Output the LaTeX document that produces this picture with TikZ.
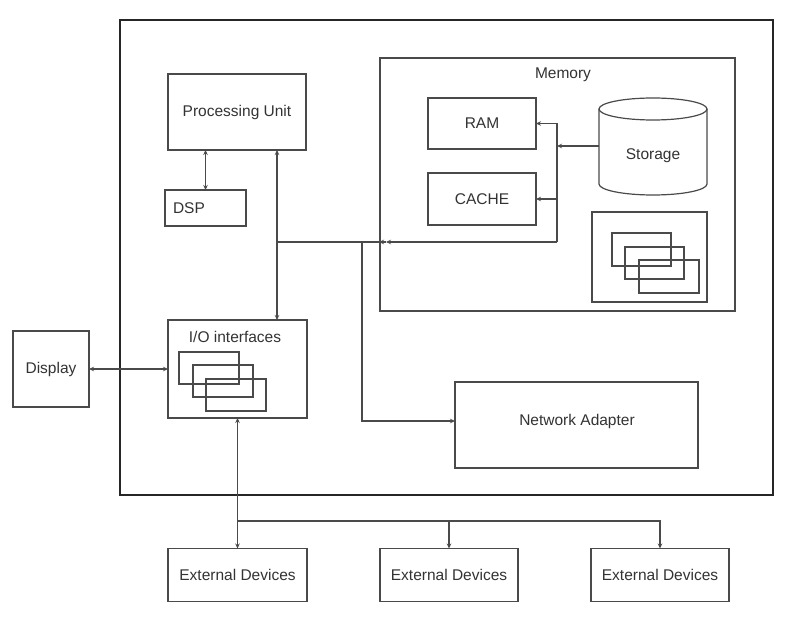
\documentclass[tikz,border=0pt]{standalone}
\usepackage{fontspec}
\setmainfont{Liberation Sans}
\usetikzlibrary{arrows.meta}
\definecolor{ln}{HTML}{4A4A4A}
\definecolor{tx}{HTML}{333333}
\begin{document}
\begin{tikzpicture}[x=1pt,y=-1pt,
  box/.style={draw=ln,line width=1.2pt,inner sep=0pt,outer sep=0pt,text=tx,font=\fontsize{15.5}{18}\selectfont},
  lbl/.style={inner sep=0pt,text=tx,font=\fontsize{15.5}{18}\selectfont},
  wire/.style={draw=ln,line width=1.2pt},
  arr/.style={wire,-{Stealth[length=5pt,width=4.5pt]}},
  biarr/.style={wire,{Stealth[length=5pt,width=4.5pt]}-{Stealth[length=5pt,width=4.5pt]}}]
\useasboundingbox (0,0) rectangle (791,617);
\fill[white] (0,0) rectangle (791,617);
% outer frame
\node[draw=black!85,line width=2pt,minimum width=653pt,minimum height=475pt,inner sep=0pt] (outer) at (446.5,257.5) {};
% processing side
\node[box,minimum width=138pt,minimum height=76pt] (pu) at (237,112) {Processing Unit};
\node[box,minimum width=81pt,minimum height=36pt,text width=65pt,align=left] (dsp) at (205.5,208) {DSP};
% memory
\node[box,minimum width=355pt,minimum height=253pt] (mem) at (557.5,184.5) {};
\node[lbl] (memlbl) at (563,75) {Memory};
\node[box,minimum width=108pt,minimum height=51pt] (ram) at (482,123.5) {RAM};
\node[box,minimum width=108pt,minimum height=52pt] (cache) at (482,199) {CACHE};
\node[lbl] (storage) at (653,156) {Storage};
\draw[ln,line width=1.2pt] (599,109) -- (599,184) arc[start angle=180,end angle=0,x radius=54,y radius=11] -- (707,109);
\draw[ln,line width=1.2pt] (653,109) ellipse[x radius=54,y radius=11];
\coordinate (stl) at (599,146);
\node[box,minimum width=115pt,minimum height=90pt] (mbox) at (649.5,257) {};
\node[box,minimum width=59pt,minimum height=33pt] (m1) at (641.5,249.5) {};
\node[box,minimum width=59pt,minimum height=32pt] (m2) at (654.5,263) {};
\node[box,minimum width=60pt,minimum height=33pt] (m3) at (669,276.5) {};
% I/O
\node[box,minimum width=139pt,minimum height=98pt] (io) at (237.5,369) {};
\node[lbl] (iolbl) at (235,337) {I/O interfaces};
\node[box,minimum width=60pt,minimum height=32pt] (i1) at (209,368) {};
\node[box,minimum width=60pt,minimum height=32pt] (i2) at (223,381) {};
\node[box,minimum width=60pt,minimum height=32pt] (i3) at (236,395) {};
\node[box,minimum width=76pt,minimum height=76pt] (display) at (51,369) {Display};
% network adapter
\node[box,minimum width=243pt,minimum height=86pt] (net) at (576.5,425) {};
\node[lbl] (netlbl) at (577,421) {Network Adapter};
% external devices
\node[box,minimum width=139pt,minimum height=53pt] (ext1) at (237.5,575) {External Devices};
\node[box,minimum width=138pt,minimum height=53pt] (ext2) at (449,575) {External Devices};
\node[box,minimum width=138pt,minimum height=53pt] (ext3) at (660,575) {External Devices};
% coordinates of bus points
\coordinate (busx) at (277,242);
\coordinate (vb) at (557,146);
\coordinate (jn) at (557,242);
\coordinate (a1) at (386,242);
\coordinate (a2) at (379,242);
\coordinate (nb) at (362,242);
\coordinate (br) at (237.5,521);
% connectors
\draw[biarr] (dsp.north) -- (dsp.north |- pu.south);
\draw[biarr] (pu.south -| busx) -- (io.north -| busx);
\draw[arr] (stl) -- (vb);
\draw[wire] (ram.east -| vb) -- (jn);
\draw[arr] (ram.east -| vb) -- (ram.east);
\draw[arr] (cache.east -| vb) -- (cache.east);
\draw[arr] (jn) -- (a1);
\draw[arr] (a1) -- (a2);
\draw[wire] (a2) -- (busx);
\draw[arr] (nb) |- ([yshift=4pt]net.west);
\draw[biarr] (display.east) -- (io.west);
\draw[biarr] (io.south) -- (ext1.north);
\draw[arr] (br) -| (ext2.north);
\draw[arr] (br) -| (ext3.north);
\end{tikzpicture}
\end{document}
